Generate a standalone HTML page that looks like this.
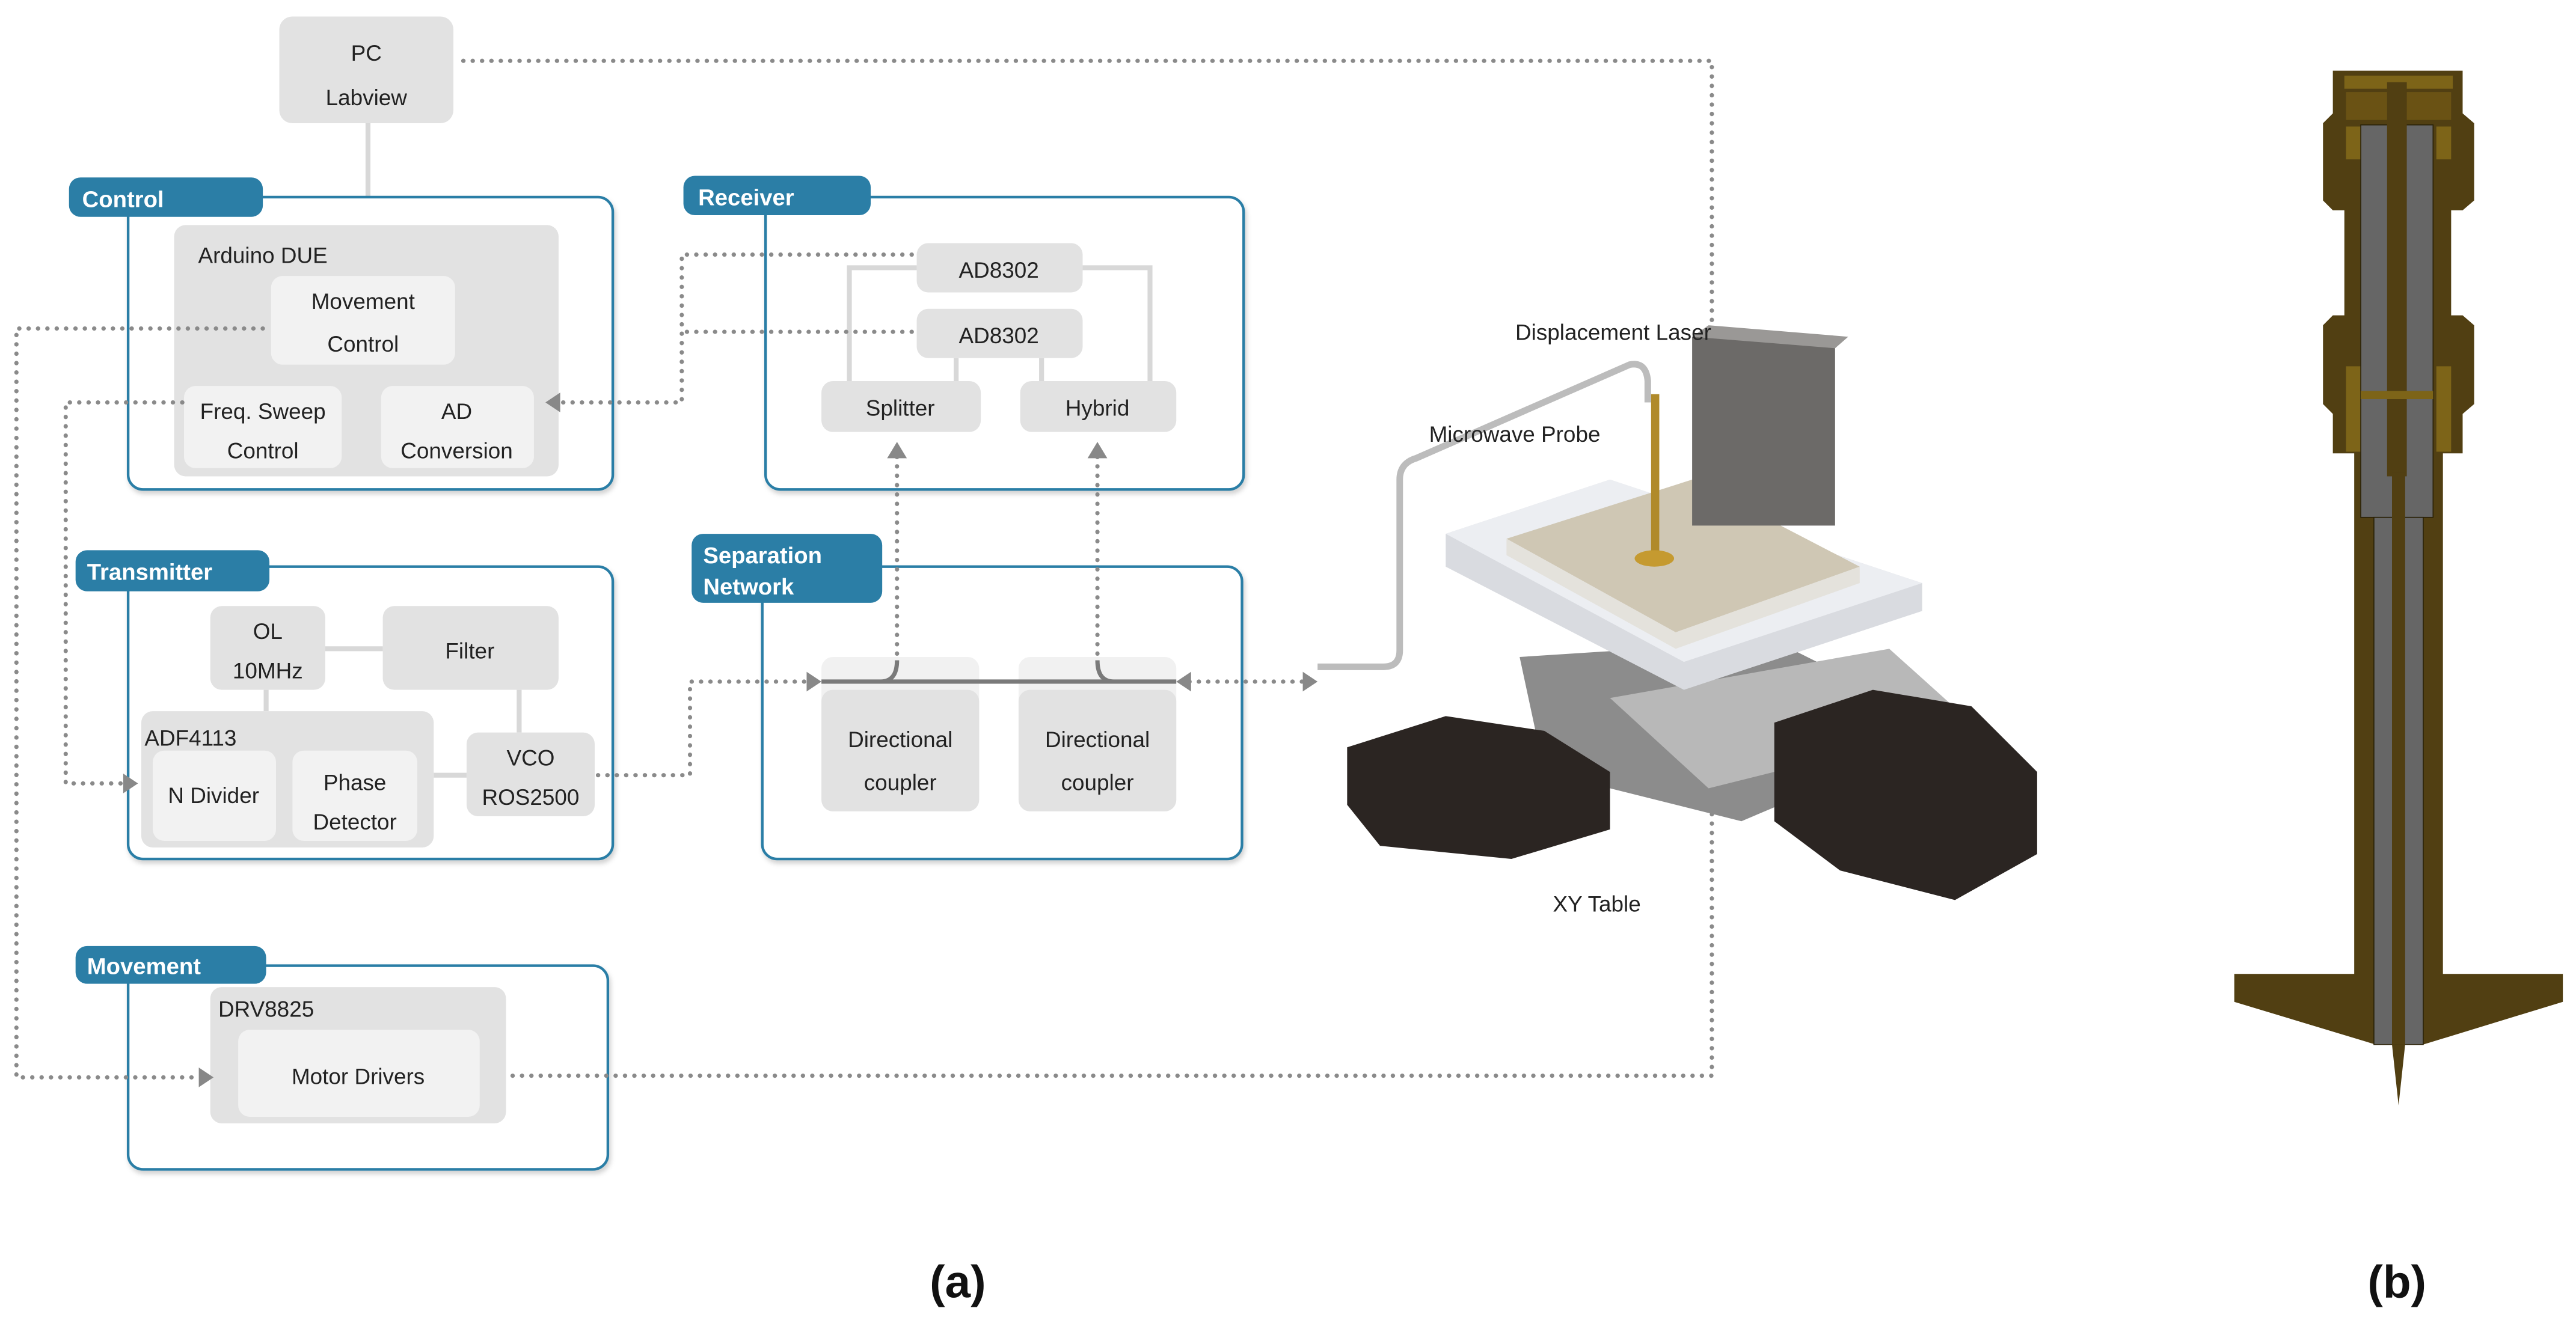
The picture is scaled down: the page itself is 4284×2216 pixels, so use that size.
<!DOCTYPE html>
<html><head><meta charset="utf-8"><style>
html,body{margin:0;padding:0;background:#fff;}
svg{display:block;}
text{font-family:"Liberation Sans Narrow","Liberation Sans",sans-serif;fill:#222;}
.t{font-size:13.5px;text-anchor:middle;}
.tab{font-size:14px;font-weight:bold;fill:#fff;}
.d{fill:none;stroke:#8a8a8a;stroke-width:2.6;stroke-dasharray:0.1 5.6;stroke-linecap:round;}
.fr{fill:#fff;stroke:#2b7ea6;stroke-width:1.6;}
.ob{fill:#e2e2e2;}
.ib{fill:#f2f2f2;}
.gl{stroke:#d8d8d8;stroke-width:3;fill:none;}
.ar{fill:#888;}
</style></head><body>
<svg width="4284" height="2216" viewBox="0 0 1568 811" xmlns="http://www.w3.org/2000/svg">
<defs><filter id="sh" x="-5%" y="-5%" width="110%" height="115%"><feDropShadow dx="1" dy="2" stdDeviation="1.5" flood-color="#000" flood-opacity="0.18"/></filter></defs>

<!-- PC -->
<line class="gl" x1="224" y1="75" x2="224" y2="137"/>
<rect class="ob" x="170" y="10" width="106" height="65" rx="8"/>
<text class="t" x="223" y="37">PC</text><text class="t" x="223" y="64">Labview</text>

<!-- Control -->
<rect class="fr" filter="url(#sh)" x="78" y="120" width="295" height="178" rx="9"/>
<rect x="42" y="108" width="118" height="24" rx="7" fill="#2b7ea6"/>
<text class="tab" x="50" y="126">Control</text>
<rect class="ob" x="106" y="137" width="234" height="153" rx="7"/>
<text class="t" x="160" y="160">Arduino DUE</text>
<rect class="ib" x="165" y="168" width="112" height="54" rx="7"/>
<text class="t" x="221" y="188">Movement</text><text class="t" x="221" y="214">Control</text>
<rect class="ib" x="112" y="235" width="96" height="50" rx="7"/>
<text class="t" x="160" y="255">Freq. Sweep</text><text class="t" x="160" y="279">Control</text>
<rect class="ib" x="232" y="235" width="93" height="50" rx="7"/>
<text class="t" x="278" y="255">AD</text><text class="t" x="278" y="279">Conversion</text>

<!-- Receiver -->
<rect class="fr" filter="url(#sh)" x="466" y="120" width="291" height="178" rx="9"/>
<rect x="416" y="107" width="114" height="24" rx="7" fill="#2b7ea6"/>
<text class="tab" x="425" y="125">Receiver</text>
<path class="gl" d="M558 163 H517 V232 M659 163 H700 V232 M582 218 V232 M634 218 V232"/>
<rect class="ob" x="558" y="148" width="101" height="30" rx="7"/>
<text class="t" x="608" y="169">AD8302</text>
<rect class="ob" x="558" y="188" width="101" height="30" rx="7"/>
<text class="t" x="608" y="209">AD8302</text>
<rect class="ob" x="500" y="232" width="97" height="31" rx="7"/>
<text class="t" x="548" y="253">Splitter</text>
<rect class="ob" x="621" y="232" width="95" height="31" rx="7"/>
<text class="t" x="668" y="253">Hybrid</text>

<!-- Transmitter -->
<rect class="fr" filter="url(#sh)" x="78" y="345" width="295" height="178" rx="9"/>
<rect x="46" y="335" width="118" height="25" rx="7" fill="#2b7ea6"/>
<text class="tab" x="53" y="353">Transmitter</text>
<path class="gl" d="M198 395 H233 M162 420 V433 M316 420 V446 M264 472 H284"/>
<rect class="ob" x="128" y="369" width="70" height="51" rx="7"/>
<text class="t" x="163" y="389">OL</text><text class="t" x="163" y="413">10MHz</text>
<rect class="ob" x="233" y="369" width="107" height="51" rx="7"/>
<text class="t" x="286" y="401">Filter</text>
<rect class="ob" x="86" y="433" width="178" height="83" rx="7"/>
<text class="t" x="116" y="454">ADF4113</text>
<rect class="ib" x="93" y="457" width="75" height="55" rx="7"/>
<text class="t" x="130" y="489">N Divider</text>
<rect class="ib" x="178" y="457" width="76" height="55" rx="7"/>
<text class="t" x="216" y="481">Phase</text><text class="t" x="216" y="505">Detector</text>
<rect class="ob" x="284" y="446" width="78" height="51" rx="7"/>
<text class="t" x="323" y="466">VCO</text><text class="t" x="323" y="490">ROS2500</text>

<!-- Separation -->
<rect class="fr" filter="url(#sh)" x="464" y="345" width="292" height="178" rx="9"/>
<rect x="421" y="325" width="116" height="42" rx="7" fill="#2b7ea6"/>
<text class="tab" x="428" y="343">Separation</text><text class="tab" x="428" y="362">Network</text>
<rect x="500" y="400" width="96" height="94" rx="7" fill="#f1f1f1"/>
<rect class="ob" x="500" y="420" width="96" height="74" rx="7"/>
<rect x="620" y="400" width="96" height="94" rx="7" fill="#f1f1f1"/>
<rect class="ob" x="620" y="420" width="96" height="74" rx="7"/>
<text class="t" x="548" y="455">Directional</text><text class="t" x="548" y="481">coupler</text>
<text class="t" x="668" y="455">Directional</text><text class="t" x="668" y="481">coupler</text>
<path d="M500 415 H716 M536 415 Q546 415 546 402 M678 415 Q668 415 668 402" stroke="#7a7a7a" stroke-width="2.6" fill="none"/>

<!-- Movement -->
<rect class="fr" filter="url(#sh)" x="78" y="588" width="292" height="124" rx="9"/>
<rect x="46" y="576" width="116" height="23" rx="7" fill="#2b7ea6"/>
<text class="tab" x="53" y="593">Movement</text>
<rect class="ob" x="128" y="601" width="180" height="83" rx="7"/>
<text class="t" x="162" y="619">DRV8825</text>
<rect class="ib" x="145" y="627" width="147" height="53" rx="7"/>
<text class="t" x="218" y="660">Motor Drivers</text>

<!-- dotted connectors -->
<path class="d" d="M282 37 H1042 V200"/>
<path class="d" d="M160 200 H10 V656 H122"/>
<path class="d" d="M111 245 H40 V477 H76"/>
<path class="d" d="M555 155 H415 V245 H342"/>
<path class="d" d="M555 202 H415"/>
<path class="d" d="M364 472 H420 V415 H492"/>
<path class="d" d="M546 398 V278 M668 398 V278"/>
<path class="d" d="M724 415 H794"/>
<path class="d" d="M312 655 H1042 V482"/>
<path class="ar" d="M130 656 l-9 -6 v12z"/>
<path class="ar" d="M84 477 l-9 -6 v12z"/>
<path class="ar" d="M332 245 l9 -6 v12z"/>
<path class="ar" d="M500 415 l-9 -6 v12z"/>
<path class="ar" d="M716 415 l9 -6 v12z"/>
<path class="ar" d="M802 415 l-9 -6 v12z"/>
<path class="ar" d="M546 269 l-6 10 h12z"/>
<path class="ar" d="M668 269 l-6 10 h12z"/>

<!-- XY table illustration -->
<g>
<polygon points="925,400 1080,390 1190,445 1060,500 940,470" fill="#8c8c8c"/>
<polygon points="980,425 1150,395 1200,440 1040,480" fill="#b8b8b8"/>
<polygon points="890,330 905,318 975,300 985,312 905,340" fill="#555"/>
<polygon points="880,325 980,292 1170,355 1170,372 1025,420 880,345" fill="#d9dbe0"/>
<polygon points="880,325 980,292 1170,355 1025,403" fill="#eceef2"/>
<polygon points="917,328 1030,292 1132,345 1020,385" fill="#cfc7b4"/>
<polygon points="917,328 917,338 1020,395 1132,355 1132,345 1020,385" fill="#e4e2dc"/>
<polygon points="820,455 880,436 940,445 980,470 980,505 920,523 840,515 820,490" fill="#2b2522"/>
<polygon points="1080,440 1140,420 1200,430 1240,470 1240,520 1190,548 1120,530 1080,500" fill="#2b2522"/>
<rect x="1030" y="205" width="87" height="115" fill="#6c6a68"/>
<polygon points="1030,205 1040,198 1125,205 1117,212" fill="#9a9896"/>
<rect x="1005" y="240" width="5" height="100" fill="#b08a2a"/>
<ellipse cx="1007" cy="340" rx="12" ry="5" fill="#c59a30"/>
<path d="M802 406 H842 Q852 406 852 396 V292 Q852 282 862 279 L992 222 Q1002 220 1003 232 V245" stroke="#bcbcbc" stroke-width="4" fill="none"/>
</g>
<text class="t" x="982" y="207">Displacement Laser</text>
<text class="t" x="922" y="269">Microwave Probe</text>
<text class="t" x="972" y="555">XY Table</text>

<!-- probe cross section (b) -->
<g>
<path fill="#513f12" d="M1420 43 H1499 V69 L1506 75 V122 L1499 128 H1492 V192 H1499 L1506 198 V246 L1499 252 V276 H1487 V593 H1560 V610 L1475 636 H1446 L1360 610 V593 H1433 V276 H1420 V252 L1414 246 V198 L1420 192 H1427 V128 H1420 L1414 122 V75 L1420 69 Z"/>
<rect x="1427" y="46" width="66" height="8" fill="#7d6418"/>
<rect x="1428" y="56" width="64" height="17" fill="#6a5214"/>
<rect x="1428" y="77" width="9" height="20" fill="#7d6418"/>
<rect x="1483" y="77" width="9" height="20" fill="#7d6418"/>
<rect x="1428" y="223" width="9" height="52" fill="#7d6418"/>
<rect x="1483" y="223" width="9" height="52" fill="#7d6418"/>
<rect x="1437" y="76" width="44" height="239" fill="#666" stroke="#2a2208" stroke-width="0.6"/>
<rect x="1445" y="315" width="30" height="321" fill="#666" stroke="#2a2208" stroke-width="0.6"/>
<rect x="1453" y="50" width="12" height="240" fill="#513f12"/>
<rect x="1456" y="288" width="8" height="348" fill="#513f12"/>
<polygon points="1456,636 1464,636 1460,673" fill="#513f12"/>
<rect x="1437" y="238" width="44" height="5" fill="#7d6418"/>
</g>

<text x="583" y="790" style="font-family:'Liberation Sans',sans-serif;font-weight:bold;font-size:28px;text-anchor:middle;fill:#111">(a)</text>
<text x="1459" y="790" style="font-family:'Liberation Sans',sans-serif;font-weight:bold;font-size:28px;text-anchor:middle;fill:#111">(b)</text>
</svg>
</body></html>
